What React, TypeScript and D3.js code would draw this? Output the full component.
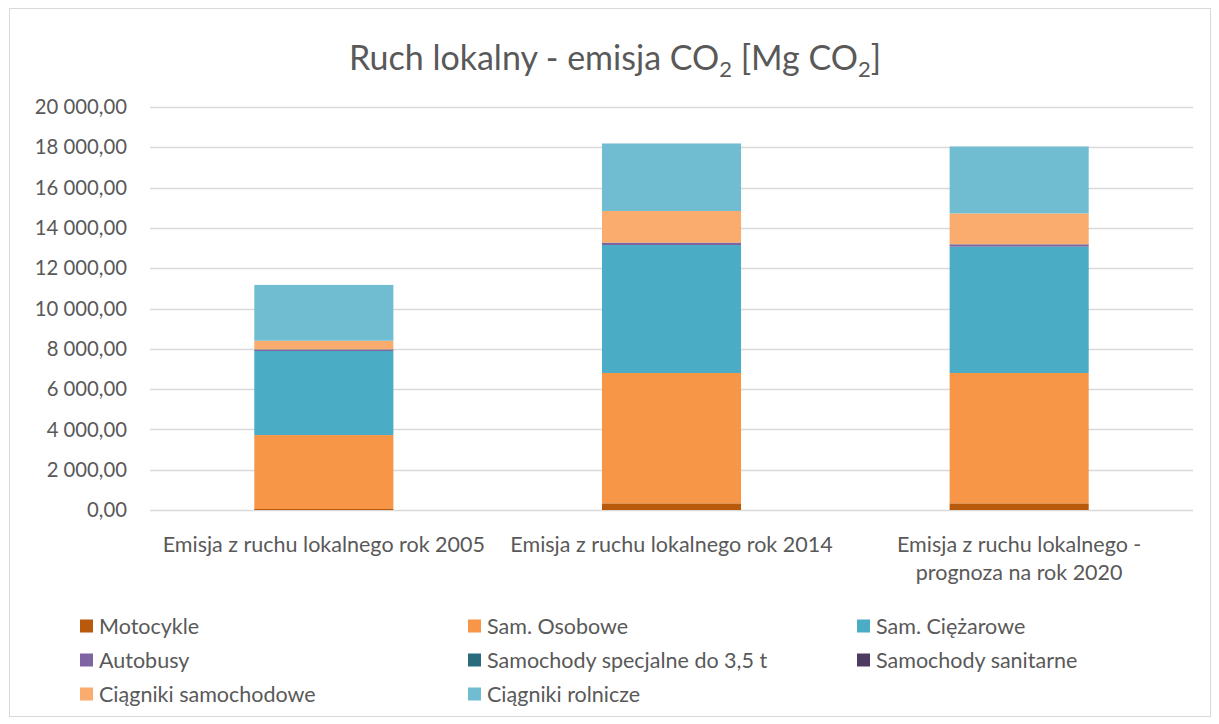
import React from 'react';
import * as d3 from 'd3';

const categories = [
  ['Emisja z ruchu lokalnego rok 2005'],
  ['Emisja z ruchu lokalnego rok 2014'],
  ['Emisja z ruchu lokalnego -', 'prognoza na rok 2020']
];
const seriesNames = [
  'Motocykle',
  'Sam. Osobowe',
  'Sam. Ciężarowe',
  'Autobusy',
  'Samochody specjalne do 3,5 t',
  'Samochody sanitarne',
  'Ciągniki samochodowe',
  'Ciągniki rolnicze'
];
const motocykle = [50, 330, 330];
const osobowe = [3670, 6470, 6470];
const ciezarowe = [4170, 6350, 6270];
const autobusy = [70, 100, 100];
const specjalne = [10, 15, 15];
const sanitarne = [5, 5, 5];
const ciagnikiSam = [425, 1570, 1530];
const ciagnikiRol = [2770, 3350, 3320];
const yTicks = [0, 2000, 4000, 6000, 8000, 10000, 12000, 14000, 16000, 18000, 20000];

const colors = ['#B9590C', '#F79646', '#4BACC6', '#8064A2', '#276B7D', '#4D3B62', '#F9AC6D', '#70BDD1'];

const W = 1219, H = 724;
const margin = { left: 150, right: 26, top: 107, bottom: 214 };
const font = "Lato, sans-serif";
const textColor = '#595959';

const pl = d3.formatLocale({ decimal: ',', thousands: ' ', grouping: [3], currency: ['', ' zł'] });
const fmt = pl.format(',.2f');

export default function App() {
  const values = [motocykle, osobowe, ciezarowe, autobusy, specjalne, sanitarne, ciagnikiSam, ciagnikiRol];
  const rows = categories.map((c, i) => {
    const r: any = { idx: i };
    seriesNames.forEach((s, j) => (r[s] = values[j][i]));
    return r;
  });
  const stacked = d3.stack().keys(seriesNames)(rows);

  const x = d3
    .scaleBand()
    .domain(categories.map((c, i) => String(i)))
    .range([margin.left, W - margin.right])
    .padding(0);
  const y = d3
    .scaleLinear()
    .domain([0, 20000])
    .range([H - margin.bottom, margin.top]);
  const barW = x.bandwidth() * 0.4;

  const legendCols = [80, 468, 857];
  const legendRows = [626, 660, 694];

  return (
    <svg width={W} height={H} style={{ position: 'absolute', left: 0, top: 0, background: '#fff' }}>
      <rect x={9.5} y={8.5} width={1201} height={708} fill="#fff" stroke="#D9D9D9" />
      <text x={615} y={70} textAnchor="middle" style={{ fontFamily: font, fontSize: 34, fill: textColor }}>
        Ruch lokalny - emisja CO<tspan dy={7} style={{ fontSize: 22 }}>2</tspan>
        <tspan dy={-7}> [Mg CO</tspan>
        <tspan dy={7} style={{ fontSize: 22 }}>2</tspan>
        <tspan dy={-7}>]</tspan>
      </text>
      <g className="grid">
        {yTicks.map(t => (
          <line key={t} x1={margin.left} x2={W - margin.right} y1={Math.round(y(t)) + 0.5} y2={Math.round(y(t)) + 0.5} stroke="#D9D9D9" strokeWidth={1.5} />
        ))}
      </g>
      <g className="yAxis">
        {yTicks.map(t => (
          <text key={t} x={127} y={y(t)} dy="0.35em" textAnchor="end" style={{ fontFamily: font, fontSize: 20.3, fill: textColor }}>
            {fmt(t)}
          </text>
        ))}
      </g>
      <g className="bars">
        {stacked.map((s, j) => (
          <g key={s.key} fill={colors[j]}>
            {s.map((d, i) => (
              <rect
                key={i}
                x={(x(String(i)) as number) + (x.bandwidth() - barW) / 2}
                y={y(d[1])}
                width={barW}
                height={Math.max(0, y(d[0]) - y(d[1]))}
              />
            ))}
          </g>
        ))}
      </g>
      <g className="xAxis">
        {categories.map((c, i) => (
          <text key={i} textAnchor="middle" style={{ fontFamily: font, fontSize: 21.5, fill: textColor }}>
            {c.map((line, k) => (
              <tspan key={k} x={(x(String(i)) as number) + x.bandwidth() / 2} y={552 + k * 28}>
                {line}
              </tspan>
            ))}
          </text>
        ))}
      </g>
      <g className="legend">
        {seriesNames.map((s, j) => {
          const lx = legendCols[j % 3], ly = legendRows[Math.floor(j / 3)];
          return (
            <g key={s} transform={`translate(${lx},${ly})`}>
              <rect x={0} y={-6.5} width={13} height={13} fill={colors[j]} />
              <text x={19} y={0} dy="0.35em" style={{ fontFamily: font, fontSize: 21.5, fill: textColor }}>
                {s}
              </text>
            </g>
          );
        })}
      </g>
    </svg>
  );
}
